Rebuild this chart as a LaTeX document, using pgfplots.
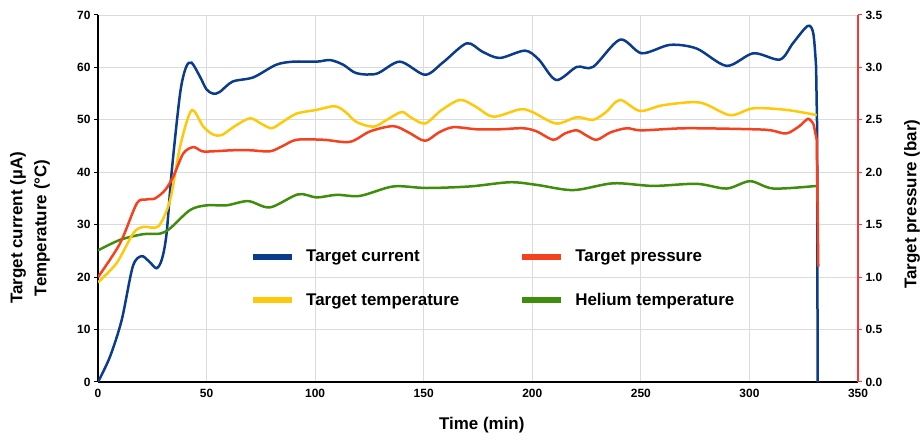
\documentclass[border=0pt]{standalone}
\usepackage{pgfplots}
\pgfplotsset{compat=1.18}
\usepackage{fontspec}
\setmainfont{Liberation Sans}
\definecolor{cblue}{HTML}{0B3C8C}
\definecolor{cred}{HTML}{F5411E}
\definecolor{cyel}{HTML}{FFC90A}
\definecolor{cgrn}{HTML}{3E8E0C}
\definecolor{axred}{HTML}{FF3535}
\begin{document}
\begin{tikzpicture}[x=1bp,y=1bp]
\path[use as bounding box] (0,0) rectangle (922,440);
\pgfplotsset{
 common/.style={at={(98bp,58bp)}, anchor=south west, scale only axis,
  width=760bp, height=367bp, xmin=0, xmax=350,
  /pgf/number format/assume math mode=true,
  tick label style={font=\fontsize{12}{14}\selectfont\bfseries},
  label style={font=\fontsize{17}{24}\selectfont\bfseries},
  tick align=outside, major tick length=4bp,
 }}
\begin{axis}[common, ymin=0, ymax=70,
  axis x line*=bottom, axis y line*=left,
  axis line style={-, line width=2bp, black},
  xtick={0,50,...,350}, ytick={0,10,...,70},
  xtick style={draw=none}, ytick style={black, line width=1bp},
  grid=major, grid style={gray!28, line width=0.8bp},
  xlabel={Time (min)},
  xlabel style={at={(rel axis cs:0.505,-0.117)}, anchor=center},
  ylabel={Target current (µA)\\Temperature (°C)},
  ylabel style={at={(rel axis cs:-0.0895,0.42)}, anchor=center, align=center},
]
\addplot[cblue, line width=2.5bp, smooth] coordinates {
(0,0) (5.5,4.8) (10.9,11.8) (16,22) (20,24) (23.5,23) (27,21.7) (29.5,23.5) (31.6,28.4) (34,40.4) (37.8,55) (40.5,60) (43.1,60.9) (47,58.2) (50,55.8) (53,55) (56,55.3) (62,57.3) (71.5,58.1) (82,60.5) (90,61.1) (100.7,61.1) (107,61.4) (113,60.5) (119,58.9) (128.3,58.8) (139,61.1) (150.6,58.6) (159,61) (169.8,64.6) (177,63) (185,61.8) (196.6,63.2) (203,61.5) (211,57.6) (220.5,60.1) (228,60.1) (240.4,65.3) (250.4,62.7) (263.4,64.3) (275.7,63.6) (289.5,60.3) (301.8,62.7) (314,61.5) (320,64.6) (326.8,67.9) (329.4,66.5) (330.7,60.1)
};
\addplot[cblue, line width=2.5bp] coordinates {(330.7,60.1) (331.2,47.5) (331.4,0)};
\addplot[cgrn, line width=2.5bp, smooth] coordinates {
(0,25.1) (10.1,27.1) (20.9,28.2) (28.6,28.3) (33.2,29.3) (42.4,32.8) (50,33.7) (59.2,33.7) (69.2,34.5) (79.2,33.3) (92.2,35.8) (100.7,35.2) (109.9,35.7) (120.7,35.5) (136,37.3) (151.3,37) (171.3,37.3) (189.7,38.1) (202,37.6) (218.9,36.6) (237.3,37.9) (255.7,37.4) (275.7,37.8) (289.5,36.9) (300.3,38.3) (311,36.9) (331,37.4)
};
\addplot[cyel, line width=2.5bp, smooth] coordinates {
(0,19) (8.6,22.7) (16.3,28.4) (20.9,29.6) (27.8,29.7) (33.2,34.7) (37.8,44.9) (43.1,51.8) (48.5,48.7) (53,47.2) (57,47.1) (63,48.8) (70,50.3) (75,49.3) (80,48.4) (85,49.6) (91.5,51.2) (100.7,51.9) (109,52.6) (114,51.5) (119,49.6) (126.8,48.7) (133,50) (139.8,51.5) (144,50.5) (150.6,49.3) (158,51.8) (166.7,53.8) (174,52.5) (182,50.6) (194.3,52) (200,51.5) (211,49.3) (220.5,50.5) (228,50) (234,51.5) (240.4,53.8) (249.6,51.7) (260.3,52.8) (277.2,53.3) (291,50.9) (301.8,52.2) (317,51.9) (331,50.9)
};
\end{axis}
\begin{axis}[common, ymin=0, ymax=3.5,
  axis x line=none, axis y line*=right,
  y axis line style={-, line width=2.5bp, axred},
  ytick={0,0.5,...,3.5}, ytick style={axred, line width=1bp},
  yticklabel style={/pgf/number format/.cd, fixed, fixed zerofill, precision=1},
  ylabel={Target pressure (bar)},
  ylabel style={at={(rel axis cs:1.071,0.485)}, anchor=center},
  legend columns=2, legend cell align=left,
  legend image code/.code={\draw[#1, line width=6bp] (0bp,0bp) -- (39bp,0bp);},
  legend style={at={(rel axis cs:0.2,0.36)}, anchor=north west, draw=none, fill=none,
    inner sep=0pt, font=\fontsize{17}{20}\selectfont\bfseries,
    nodes={inner sep=0pt}, row sep=30bp,
    /tikz/every odd column/.append style={column sep=11bp},
    /tikz/every even column/.append style={column sep=60bp}},
]
\addlegendimage{cblue, line width=2.5bp}
\addlegendentry{Target current}
\addplot[cred, line width=2.5bp, smooth] coordinates {
(0,1.0) (10.1,1.32) (17.8,1.70) (22,1.74) (26.2,1.75) (30.9,1.83) (34.7,1.96) (39.3,2.18) (43.9,2.24) (48,2.20) (53.1,2.20) (62,2.21) (70,2.21) (79.2,2.20) (85,2.25) (91.5,2.31) (103.8,2.31) (116,2.29) (125.3,2.39) (136,2.44) (143,2.38) (150.6,2.30) (157,2.38) (163.6,2.43) (174.4,2.41) (185,2.41) (195.8,2.42) (202,2.39) (209.7,2.31) (215,2.37) (220.5,2.40) (225,2.35) (229.7,2.31) (236,2.38) (243.5,2.42) (250.4,2.40) (271,2.42) (301.8,2.41) (310,2.40) (317,2.37) (323,2.44) (327,2.51) (329.5,2.46)
};
\addlegendentry{Target pressure}
\addplot[cred, line width=2.5bp, forget plot] coordinates {(329.5,2.46) (331,2.31) (331.7,1.10)};
\addlegendimage{cyel, line width=2.5bp}
\addlegendentry{Target temperature}
\addlegendimage{cgrn, line width=2.5bp}
\addlegendentry{Helium temperature}
\end{axis}
\end{tikzpicture}
\end{document}
